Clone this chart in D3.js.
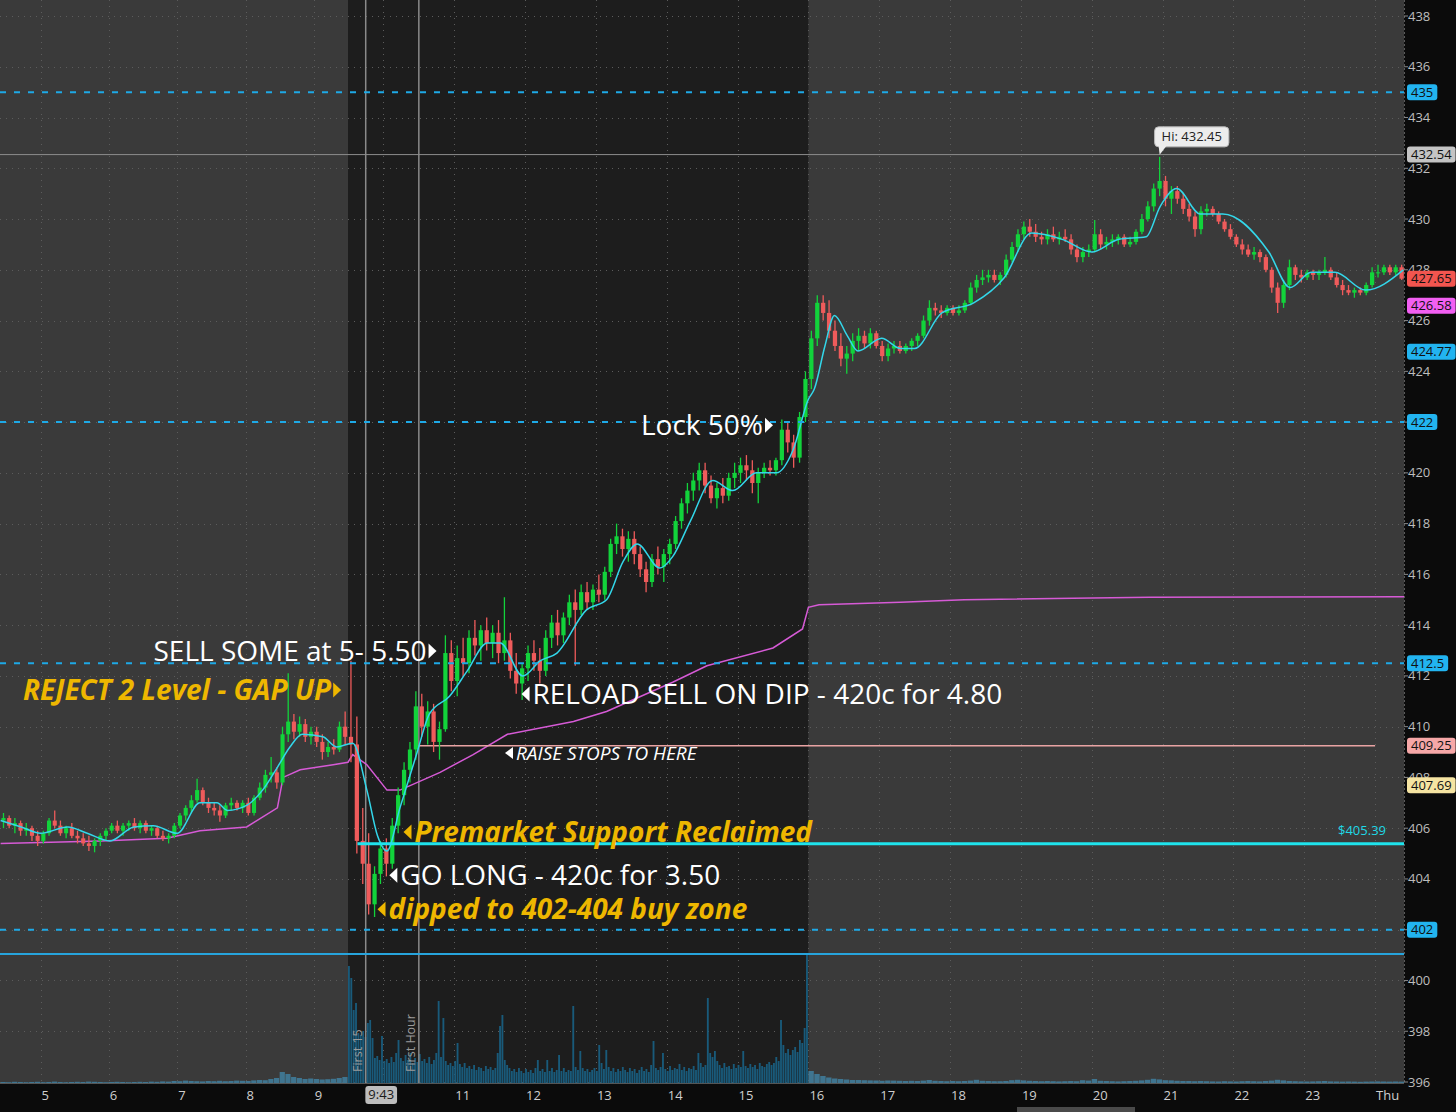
<!DOCTYPE html>
<html><head><meta charset="utf-8">
<script src="https://cdn.jsdelivr.net/npm/d3@7"></script>
<style>body{margin:0;background:#0a0a0a;overflow:hidden}svg{display:block}text{font-family:"Open Sans",sans-serif}</style>
</head><body><svg id="chart" width="1456" height="1112"></svg>
<script>
// ---------- DATA ----------
// 5-minute OHLC bars, premarket starts 4:25
const premarketBars = [
[406.3,406.6,406.0,406.4],[406.4,406.5,406.0,406.1],[406.1,406.4,405.8,406.2],[406.2,406.3,405.7,405.9],[405.9,406.2,405.7,406.0],
[406.0,406.1,405.5,405.7],[405.7,405.9,405.3,405.5],[405.5,405.9,405.4,405.8],[405.8,406.4,405.7,406.3],[406.3,406.7,406.0,406.1],
[406.1,406.3,405.7,405.8],[405.8,406.1,405.6,406.0],[406.0,406.2,405.6,405.7],[405.7,405.9,405.4,405.6],[405.6,405.8,405.3,405.4],
[405.4,405.7,405.1,405.3],[405.3,405.6,405.05,405.5],[405.5,405.8,405.3,405.7],[405.7,406.0,405.5,405.9],[405.9,406.2,405.8,406.1],
[406.1,406.3,405.8,405.9],[405.9,406.2,405.7,406.1],[406.1,406.3,405.9,406.2],[406.2,406.4,405.9,406.0],[406.0,406.3,405.8,406.2],
[406.2,406.3,405.8,405.9],[405.9,406.1,405.7,406.0],[406.0,406.1,405.6,405.7],[405.7,405.9,405.5,405.6],[405.6,405.8,405.4,405.7],
[405.7,406.2,405.6,406.1],[406.1,406.6,406.0,406.5],[406.5,406.9,406.3,406.8],[406.8,407.3,406.6,407.1],[407.1,407.95,407.0,407.5],
[407.5,407.6,406.9,407.0],[407.0,407.2,406.6,406.8],[406.8,407.0,406.5,406.7],[406.7,406.9,406.25,406.5],[406.5,407.0,406.4,406.9],
[406.9,407.2,406.7,407.0],[407.0,407.1,406.7,406.8],[406.8,407.1,406.6,407.0],[407.0,407.2,406.5,406.6],[406.6,407.3,406.5,407.2],
[407.2,407.8,407.1,407.6],[407.6,408.3,407.4,408.1],[408.1,408.8,407.8,408.2],[408.2,408.4,407.55,407.8],[407.8,410.0,407.7,409.7],
[409.7,412.1,409.4,410.2],[410.2,410.5,409.5,409.8],[409.8,410.4,409.6,410.1],[410.1,410.3,409.4,409.6],[409.6,410.0,409.3,409.8],
[409.8,410.0,409.2,409.4],[409.4,409.7,408.7,409.0],[409.0,409.4,408.8,409.2],[409.2,409.5,408.9,409.1],[409.1,410.2,409.0,410.0],
[410.0,410.6,409.3,409.6]
];
// 5-minute OHLC bars, regular session 9:30 - 16:00
const regularBars = [
[409.6,412.6,408.6,409.3],[409.3,410.4,405.0,405.5],[405.5,406.8,403.8,404.6],[404.6,405.8,402.6,403.0],[403.0,404.5,402.5,404.2],
[404.2,405.5,403.8,405.2],[405.2,405.6,404.1,404.6],[404.6,406.4,404.4,406.1],[406.1,407.6,405.8,407.3],[407.3,408.6,406.9,408.3],
[408.3,409.4,407.8,409.1],[409.1,411.4,408.7,410.8],[410.8,411.3,409.6,410.0],[410.0,411.0,409.3,410.6],[410.6,410.9,409.0,409.4],
[409.4,410.2,408.7,409.9],[409.9,413.6,409.8,412.9],[412.9,413.4,411.4,411.8],[411.8,413.2,411.2,412.7],[412.7,413.5,412.0,412.5],
[412.5,413.8,412.1,413.5],[413.5,414.2,412.8,413.2],[413.2,414.0,412.6,413.8],[413.8,414.3,413.0,413.3],[413.3,414.0,412.7,413.7],
[413.7,414.2,412.5,412.9],[412.9,415.1,412.6,413.4],[413.4,413.7,411.9,412.2],[412.2,412.9,411.3,411.7],[411.7,412.5,411.05,412.3],
[412.3,413.2,411.8,412.9],[412.9,413.4,412.2,412.6],[412.6,413.1,411.7,412.2],[412.2,413.8,412.0,413.5],[413.5,414.4,413.1,414.1],
[414.1,414.6,413.2,413.6],[413.6,414.5,413.3,414.3],[414.3,415.2,414.0,414.9],[414.9,415.4,412.4,414.6],[414.6,415.6,414.4,415.3],
[415.3,415.7,414.6,414.9],[414.9,415.6,414.6,415.4],[415.4,416.0,414.9,415.2],[415.2,416.3,415.0,416.1],[416.1,417.4,415.9,417.2],
[417.2,418.0,416.8,417.5],[417.5,417.8,416.7,417.0],[417.0,417.7,416.5,417.4],[417.4,417.7,416.4,416.8],[416.8,417.1,415.9,416.2],
[416.2,416.5,415.3,415.7],[415.7,416.8,415.5,416.6],[416.6,417.1,416.0,416.3],[416.3,417.0,415.7,416.8],[416.8,417.4,416.4,417.2],
[417.2,418.3,417.0,418.1],[418.1,419.0,417.8,418.8],[418.8,419.6,418.4,419.3],[419.3,420.0,418.9,419.7],[419.7,420.4,419.3,420.1],
[420.1,420.4,419.2,419.5],[419.5,419.9,418.8,419.0],[419.0,419.6,418.6,419.4],[419.4,419.8,418.8,419.1],[419.1,420.0,418.9,419.8],
[419.8,420.4,419.4,420.0],[420.0,420.6,419.6,420.3],[420.3,420.7,419.7,420.1],[420.1,420.5,419.2,419.6],[419.6,420.2,418.8,420.0],
[420.0,420.4,419.8,420.2],[420.2,420.5,419.9,420.1],[420.1,420.6,419.9,420.5],[420.5,422.1,420.3,421.7],[421.7,422.0,420.8,421.2],
[421.2,421.5,420.2,420.6],[420.6,422.4,420.4,422.2],[422.2,424.0,422.0,423.7]
];
// 5-minute OHLC bars, after hours 16:00 - 0:25
const afterHoursBars = [
[423.7,425.6,423.3,425.3],[425.3,427.0,425.0,426.7],[426.7,427.0,426.0,426.3],[426.3,426.8,425.3,425.6],[425.6,426.0,424.8,425.0],
[425.0,425.5,424.2,424.5],[424.5,425.0,423.9,424.7],[424.7,425.5,424.4,425.2],[425.2,425.7,424.8,425.4],[425.4,425.6,424.9,425.1],
[425.1,425.7,424.9,425.5],[425.5,425.6,424.9,425.0],[425.0,425.2,424.4,424.6],[424.6,425.1,424.4,424.9],[424.9,425.2,424.7,425.0],
[425.0,425.2,424.7,424.8],[424.8,425.1,424.7,425.0],[425.0,425.3,424.8,425.2],[425.2,425.5,425.0,425.4],[425.4,426.2,425.3,426.0],
[426.0,426.8,425.8,426.5],[426.5,426.7,426.2,426.4],[426.4,426.6,426.1,426.3],[426.3,426.6,426.2,426.5],[426.5,426.6,426.2,426.3],
[426.3,426.6,426.2,426.4],[426.4,426.8,426.3,426.7],[426.7,427.5,426.6,427.3],[427.3,427.8,427.1,427.6],[427.6,428.0,427.4,427.7],
[427.7,428.0,427.5,427.8],[427.8,428.0,427.5,427.6],[427.6,427.9,427.4,427.8],[427.8,428.6,427.7,428.4],[428.4,429.1,428.3,428.9],
[428.9,429.6,428.7,429.4],[429.4,429.9,429.2,429.7],[429.7,430.0,429.3,429.5],[429.5,429.8,429.1,429.3],[429.3,429.5,429.0,429.2],
[429.2,429.6,429.0,429.4],[429.4,429.7,429.1,429.2],[429.2,429.5,429.0,429.3],[429.3,429.6,429.1,429.2],[429.2,429.4,428.6,428.8],
[428.8,429.0,428.3,428.5],[428.5,428.9,428.3,428.7],[428.7,429.0,428.5,428.8],[428.8,429.96,428.7,429.4],[429.4,429.6,428.8,429.0],
[429.0,429.3,428.8,429.1],[429.1,429.4,428.9,429.2],[429.2,429.4,429.0,429.3],[429.3,429.4,428.9,429.0],[429.0,429.3,428.9,429.1],
[429.1,429.6,429.0,429.5],[429.5,430.2,429.4,430.0],[430.0,430.7,429.9,430.5],[430.5,431.4,430.3,431.2],[431.2,432.45,430.9,431.5],
[431.5,431.7,430.5,430.8],[430.8,431.3,430.2,431.1],[431.1,431.3,430.6,430.8],[430.8,431.0,430.2,430.4],[430.4,430.6,429.9,430.1],
[430.1,430.3,429.3,429.6],[429.6,430.5,429.4,430.3],[430.3,430.6,430.1,430.4],[430.4,430.5,430.1,430.2],[430.2,430.3,429.8,429.9],
[429.9,430.0,429.5,429.6],[429.6,429.8,429.2,429.3],[429.3,429.4,428.9,429.0],[429.0,429.2,428.6,428.8],[428.8,429.0,428.5,428.6],
[428.6,428.9,428.4,428.7],[428.7,428.8,428.3,428.5],[428.5,428.6,427.9,428.0],[428.0,428.1,427.1,427.3],[427.3,427.5,426.3,426.7],
[426.7,427.6,426.5,427.4],[427.4,428.4,427.2,428.1],[428.1,428.2,427.6,427.8],[427.8,428.0,427.5,427.7],[427.7,428.0,427.6,427.9],
[427.9,428.0,427.6,427.8],[427.8,428.0,427.6,427.9],[427.9,428.5,427.8,428.0],[428.0,428.1,427.6,427.7],[427.7,427.9,427.3,427.4],
[427.4,427.6,427.0,427.2],[427.2,427.4,427.0,427.1],[427.1,427.3,426.9,427.2],[427.2,427.3,427.0,427.1],[427.1,427.5,427.0,427.4],
[427.4,428.1,427.3,427.9],[427.9,428.2,427.7,427.9],[427.9,428.2,427.8,428.1],[428.1,428.2,427.8,427.9],[427.9,428.2,427.8,428.1],
[428.1,428.2,427.6,427.65]
];
// volume (thousands): premarket & after hours per 5 min, regular session per 2 min
const premarketVolume = [10,8,12,10,8,10,12,8,10,14,10,8,10,12,10,14,12,10,8,10,12,10,8,10,12,10,14,12,16,14,
20,18,24,20,18,16,20,18,22,18,20,24,22,20,26,30,28,40,50,110,90,60,50,40,45,40,35,38,42,50,60];
const regularVolume = [1170,1050,730,800,500,480,520,460,600,630,450,250,270,230,470,220,240,200,260,210,
300,430,250,220,280,230,300,200,250,210,290,220,240,200,260,190,230,300,820,260,
650,220,180,200,170,220,400,190,160,200,150,170,140,180,130,160,150,120,170,140,
160,130,150,300,570,680,230,180,150,120,140,110,150,120,100,140,110,130,100,150,
230,120,140,110,230,120,150,110,130,280,120,150,110,130,120,770,160,130,320,150,
120,140,110,130,150,120,380,200,140,330,160,120,150,110,140,120,160,130,110,150,
120,140,100,130,160,120,140,110,180,420,150,130,160,300,140,120,170,130,150,140,
190,130,160,120,150,140,170,130,300,200,160,180,850,300,260,320,220,180,150,200,
160,170,140,190,150,180,160,320,170,150,190,160,180,140,200,170,160,190,210,180,
200,260,220,630,380,300,340,280,330,360,310,430,400,550,1280];
const afterHoursVolume = [120,90,70,55,45,40,35,30,30,28,26,25,22,25,24,22,20,22,20,24,
30,22,20,18,20,18,20,24,32,22,20,18,18,20,28,32,26,22,20,18,20,18,16,18,20,18,28,24,40,22,
20,18,16,18,20,22,26,32,42,36,28,26,22,20,20,18,20,18,16,15,18,16,15,18,20,18,16,20,24,32,
26,20,18,16,15,16,18,20,16,15,14,15,14,12,14,15,16,15,14,15,14];
// cyan moving average and magenta VWAP, [time, price]
const emaPoints = [["4:25",406.3],["4:43",406.05],["5:00",405.8],["5:24",406.05],["5:41",405.8],["6:01",405.5],["6:22",406.05],
["6:39",406.1],["7:00",405.8],["7:20",407.0],["7:35",407.0],["7:44",406.7],["8:01",406.9],["8:15",407.5],["8:28",408.4],
["8:39",409.2],["8:50",409.7],["9:08",409.6],["9:20",409.2],["9:34",409.35],["9:46",407.5],["9:55",405.7],["10:03",405.1],
["10:14",406.8],["10:28",408.9],["10:39",410.5],["10:56",411.2],["11:11",412.2],["11:28",413.3],["11:39",413.3],["11:58",412.0],
["12:13",412.6],["12:27",412.9],["12:52",414.6],["13:09",415.0],["13:23",416.5],["13:35",417.2],["13:54",416.25],["14:05",416.7],
["14:20",418.1],["14:39",419.7],["14:56",419.3],["15:16",420.0],["15:33",420.0],["15:47",420.9],["16:00",422.9],["16:05",423.3],
["16:14",425.0],["16:22",426.2],["16:33",425.4],["16:42",424.8],["17:02",425.3],["17:18",424.9],["17:30",424.9],["17:53",426.3],
["18:20",426.7],["18:46",427.7],["19:09",429.45],["19:35",429.2],["20:00",428.7],["20:23",429.2],["20:46",429.3],["20:58",430.5],
["21:12",431.2],["21:32",430.2],["21:51",430.2],["22:30",428.7],["22:48",427.3],["23:06",427.9],["23:26",427.9],["23:52",427.2],["24:24",428.0]];
const vwapPoints = [["4:25",405.4],["5:53",405.5],["6:51",405.6],["7:20",405.9],["8:01",406.05],["8:28",406.8],["8:33",408.0],
["8:48",408.3],["9:17",408.5],["9:30",408.6],["9:34",408.9],["9:46",408.5],["10:03",407.5],["10:14",407.5],["10:48",408.2],
["11:16",408.9],["11:45",409.7],["12:41",410.2],["13:09",410.6],["14:05",411.75],["14:34",412.4],["15:30",413.1],["15:55",413.85],
["16:00",414.7],["16:09",414.8],["17:18",414.9],["18:12",415.0],["20:49",415.1],["24:25",415.12]];
const priceTicks = d3.range(396, 439, 2);
const hourTicks = [5,6,7,8,9,10,11,12,13,14,15,16,17,18,19,20,21,22,23,24];
// "10" sits under the 9:43 cursor box in the reference, so it is not shown
const hourLabels = ["5","6","7","8","9","","11","12","13","14","15","16","17","18","19","20","21","22","23","Thu"];
const dashedLevels = [435, 422, 412.5, 402];
const priceTags = [
 {v:"435",c:"#22b4f0"},{v:"432.54",c:"#c4c4c4"},{v:"427.65",c:"#f2554f"},{v:"426.58",c:"#f25ff2"},
 {v:"424.77",c:"#22b4f0"},{v:"422",c:"#22b4f0"},{v:"412.5",c:"#22b4f0"},{v:"409.25",c:"#f6a7a7"},
 {v:"407.69",c:"#f5e4a2"},{v:"402",c:"#22b4f0"}];
const annotations = [
 {text:"SELL SOME at 5- 5.50", t:"10:45", p:412.98, dir:"right", kind:"white"},
 {text:"REJECT 2 Level - GAP UP", t:"9:24", p:411.44, dir:"right", kind:"gold"},
 {text:"Lock 50%", t:"15:30", p:421.88, dir:"right", kind:"white"},
 {text:"RELOAD SELL ON DIP - 420c for 4.80", t:"11:57", p:411.29, dir:"left", kind:"white"},
 {text:"RAISE STOPS TO HERE", t:"11:43", p:408.96, dir:"left", kind:"small"},
 {text:"Premarket Support Reclaimed", t:"10:17", p:405.85, dir:"left", kind:"gold"},
 {text:"GO LONG - 420c for 3.50", t:"10:05", p:404.15, dir:"left", kind:"white"},
 {text:"dipped to 402-404 buy zone", t:"9:55", p:402.81, dir:"left", kind:"gold"}];

// ---------- SCALES ----------
const plotRight = 1404, plotBottom = 1083;
const hm = s => { const [h,m] = s.split(":").map(Number); return h + m/60; };
const x = d3.scaleLinear().domain([5, 9.5, 24.4]).range([40.5, 348, 1403.4]);
const y = d3.scaleLinear().domain([396, 438]).range([1082, 16]);
const yVol = d3.scaleLinear().domain([0, 1300]).range([plotBottom, plotBottom - 130]);
const preStart = hm("4:25"), regStart = 9.5, ahStart = 16;
const step5 = 5/60, step2 = 2/60;

const toBars = (arr, start) => arr.map((b,i)=>({t:start+i*step5,o:b[0],h:b[1],l:b[2],c:b[3]}));
const bars = [...toBars(premarketBars, preStart), ...toBars(regularBars, regStart), ...toBars(afterHoursBars, ahStart)];
const vols = [
 ...premarketVolume.map((v,i)=>({t:preStart+i*step5, w:step5, v, reg:false})),
 ...regularVolume.map((v,i)=>({t:regStart+i*step2, w:step2, v, reg:true})),
 ...afterHoursVolume.map((v,i)=>({t:ahStart+i*step5, w:step5, v, reg:false}))];

const svg = d3.select("#chart");

// ---------- BACKGROUND ----------
svg.append("rect").attr("x",0).attr("y",0).attr("width",1456).attr("height",1112).attr("fill","#0a0a0a");
svg.append("rect").attr("x",0).attr("y",0).attr("width",plotRight).attr("height",plotBottom).attr("fill","#3a3a3a");
svg.append("rect").attr("x",x(regStart)).attr("y",0).attr("width",x(ahStart)-x(regStart)).attr("height",plotBottom).attr("fill","#1d1d1d");

// grid
const grid = svg.append("g").attr("stroke","#5c5c5c").attr("stroke-width",1).attr("stroke-dasharray","1,5");
grid.selectAll("line.h").data(priceTicks).join("line").attr("x1",0).attr("x2",plotRight)
  .attr("y1",d=>Math.round(y(d))+0.5).attr("y2",d=>Math.round(y(d))+0.5);
grid.selectAll("line.v").data(hourTicks).join("line").attr("y1",0).attr("y2",plotBottom)
  .attr("x1",d=>Math.round(x(d))+0.5).attr("x2",d=>Math.round(x(d))+0.5);

// ---------- VOLUME ----------
svg.append("g").selectAll("rect").data(vols).join("rect")
  .attr("x",d=>x(d.t)).attr("width",d=>Math.max(0.8,(x(d.t+d.w)-x(d.t))-0.5))
  .attr("y",d=>yVol(d.v)).attr("height",d=>plotBottom-yVol(d.v))
  .attr("fill",d=>d.reg?"#195a7a":"#3f7590");

// session marker lines
const markers = [{t:"9:45",label:"First 15"},{t:"10:30",label:"First Hour"}];
const mg = svg.append("g");
mg.selectAll("line").data(markers).join("line")
  .attr("x1",d=>x(hm(d.t))).attr("x2",d=>x(hm(d.t))).attr("y1",0).attr("y2",plotBottom)
  .attr("stroke","#8a8a8a").attr("stroke-width",1.5);
mg.selectAll("text").data(markers).join("text")
  .attr("transform",d=>`translate(${x(hm(d.t))-4},${plotBottom-11}) rotate(-90)`)
  .attr("font-size",12.5).attr("fill","#9a9a9a").text(d=>d.label);

// ---------- VWAP ----------
const line = d3.line().x(d=>x(hm(d[0]))).y(d=>y(d[1]));
svg.append("path").datum(vwapPoints).attr("d",line).attr("fill","none").attr("stroke","#d65ad6").attr("stroke-width",1.5);

// pink stop line
svg.append("line").attr("x1",x(10.5)).attr("x2",x(24)).attr("y1",y(409.25)).attr("y2",y(409.25))
  .attr("stroke","#e9a3a3").attr("stroke-width",1.5);

// ---------- CANDLES ----------
const cg = svg.append("g");
const bw = d => (x(d.t+step5)-x(d.t))*0.72;
const col = d => d.c >= d.o ? "#12d33b" : "#ef5b5b";
cg.selectAll("line").data(bars).join("line")
  .attr("x1",d=>x(d.t+step5/2)).attr("x2",d=>x(d.t+step5/2))
  .attr("y1",d=>y(d.h)).attr("y2",d=>y(d.l)).attr("stroke",col).attr("stroke-width",1.3);
cg.selectAll("rect").data(bars).join("rect")
  .attr("x",d=>x(d.t+step5/2)-bw(d)/2).attr("width",bw)
  .attr("y",d=>y(Math.max(d.o,d.c))).attr("height",d=>Math.max(1,Math.abs(y(d.o)-y(d.c))))
  .attr("fill",col);

// ---------- EMA ----------
const curve = d3.line().x(d=>x(hm(d[0]))).y(d=>y(d[1])).curve(d3.curveMonotoneX);
svg.append("path").datum(emaPoints).attr("d",curve).attr("fill","none").attr("stroke","#33d7ea").attr("stroke-width",1.5);

// ---------- LEVEL LINES ----------
svg.append("g").selectAll("line").data(dashedLevels).join("line")
  .attr("x1",0).attr("x2",plotRight).attr("y1",d=>y(d)).attr("y2",d=>y(d))
  .attr("stroke","#1ea9e6").attr("stroke-width",2).attr("stroke-dasharray","6,8");
svg.append("line").attr("x1",0).attr("x2",plotRight).attr("y1",y(401.04)).attr("y2",y(401.04))
  .attr("stroke","#27a4dc").attr("stroke-width",2);
svg.append("line").attr("x1",x(hm("9:38"))).attr("x2",plotRight).attr("y1",y(405.39)).attr("y2",y(405.39))
  .attr("stroke","#1fe3ec").attr("stroke-width",3);
svg.append("text").attr("x",plotRight-18).attr("y",y(405.39)-9).attr("text-anchor","end")
  .attr("font-size",13).attr("fill","#1fd8e6").text("$405.39");
// crosshair
svg.append("line").attr("x1",0).attr("x2",plotRight).attr("y1",y(432.54)).attr("y2",y(432.54))
  .attr("stroke","#8c8c8c").attr("stroke-width",1);

// ---------- ANNOTATIONS ----------
const styles = {
  white:{size:28, weight:400, italic:false, fill:"#ffffff"},
  gold:{size:28, weight:700, italic:true, fill:"#eeb700"},
  small:{size:19, weight:400, italic:true, fill:"#ffffff"}};
const ag = svg.append("g");
annotations.forEach(a=>{
  const s = styles[a.kind], ax = x(hm(a.t)), ay = y(a.p);
  const th = s.size>20 ? 7.5 : 6, tw = 8;
  if (a.dir==="right") {
    ag.append("path").attr("d",`M${ax},${ay} L${ax-tw},${ay-th} L${ax-tw},${ay+th} Z`).attr("fill",s.fill);
    ag.append("text").attr("x",ax-tw-2).attr("y",ay+s.size*0.36).attr("text-anchor","end")
      .attr("font-size",s.size).attr("font-weight",s.weight).attr("font-style",s.italic?"italic":"normal")
      .attr("fill",s.fill).text(a.text);
  } else {
    ag.append("path").attr("d",`M${ax},${ay} L${ax+tw},${ay-th} L${ax+tw},${ay+th} Z`).attr("fill",s.fill);
    ag.append("text").attr("x",ax+tw+3).attr("y",ay+s.size*0.36).attr("text-anchor","start")
      .attr("font-size",s.size).attr("font-weight",s.weight).attr("font-style",s.italic?"italic":"normal")
      .attr("fill",s.fill).text(a.text);
  }
});

// Hi label
const hiBar = bars.reduce((a,b)=>b.h>a.h?b:a);
const hx = x(hiBar.t+step5/2), hy = y(hiBar.h);
const hg = svg.append("g");
const hText = hg.append("text").attr("x",hx+2).attr("y",hy-16).attr("font-size",13).attr("fill","#222").text("Hi: "+hiBar.h.toFixed(2));
const hW = hText.node().getComputedTextLength();
hg.insert("rect","text").attr("x",hx-5).attr("y",hy-30).attr("width",hW+14).attr("height",20).attr("rx",4)
  .attr("fill","#ececec").attr("stroke","#bbb");
hg.insert("path","text").attr("d",`M${hx-1},${hy-11} L${hx+7},${hy-11} L${hx},${hy-2} Z`).attr("fill","#ececec");

// ---------- AXES PANELS ----------
svg.append("rect").attr("x",plotRight).attr("y",0).attr("width",1456-plotRight).attr("height",1112).attr("fill","#0b0b0b");
svg.append("rect").attr("x",0).attr("y",plotBottom+1).attr("width",plotRight).attr("height",1112-plotBottom).attr("fill","#0b0b0b");
svg.append("line").attr("x1",plotRight+0.5).attr("x2",plotRight+0.5).attr("y1",0).attr("y2",plotBottom)
  .attr("stroke","#5a5a5a").attr("stroke-dasharray","2,2");
svg.append("line").attr("x1",0).attr("x2",plotRight).attr("y1",plotBottom+0.5).attr("y2",plotBottom+0.5).attr("stroke","#555");
// scrollbar
svg.append("rect").attr("x",1017).attr("y",1107).attr("width",118).attr("height",5).attr("fill","#4a4a4a");

// right axis
const tagVals = priceTags.map(d=>+d.v);
const ra = svg.append("g");
ra.selectAll("line").data(priceTicks).join("line").attr("x1",plotRight).attr("x2",plotRight+4)
  .attr("y1",d=>y(d)).attr("y2",d=>y(d)).attr("stroke","#888");
ra.selectAll("text").data(priceTicks.filter(d=>!tagVals.includes(d))).join("text")
  .attr("x",plotRight+4).attr("y",d=>y(d)+4.5).attr("font-size",13).attr("fill","#bdbdbd").text(d=>d);
priceTags.forEach(tg=>{
  const ty = y(+tg.v);
  const g = svg.append("g");
  const t = g.append("text").attr("x",plotRight+7).attr("y",ty+4.5).attr("font-size",13).attr("fill","#111").text(tg.v);
  const w = t.node().getComputedTextLength();
  g.insert("rect","text").attr("x",plotRight+3).attr("y",ty-8).attr("width",w+8).attr("height",16).attr("rx",3).attr("fill",tg.c);
});

// bottom axis
const ba = svg.append("g");
ba.selectAll("text").data(hourTicks).join("text")
  .attr("x",d=>x(d)+1).attr("y",1100).attr("font-size",13).attr("fill","#cfcfcf").text((d,i)=>hourLabels[i]);
// cursor time box
const cursorT = hm("9:43");
const cb = svg.append("g");
const ct = cb.append("text").attr("x",x(cursorT)+5).attr("y",1099).attr("font-size",13).attr("fill","#1a1a1a").text("9:43");
const cw = ct.node().getComputedTextLength();
cb.insert("rect","text").attr("x",x(cursorT)+2).attr("y",1086).attr("width",cw+6).attr("height",18).attr("rx",3).attr("fill","#bdbdbd");
</script></body></html>
